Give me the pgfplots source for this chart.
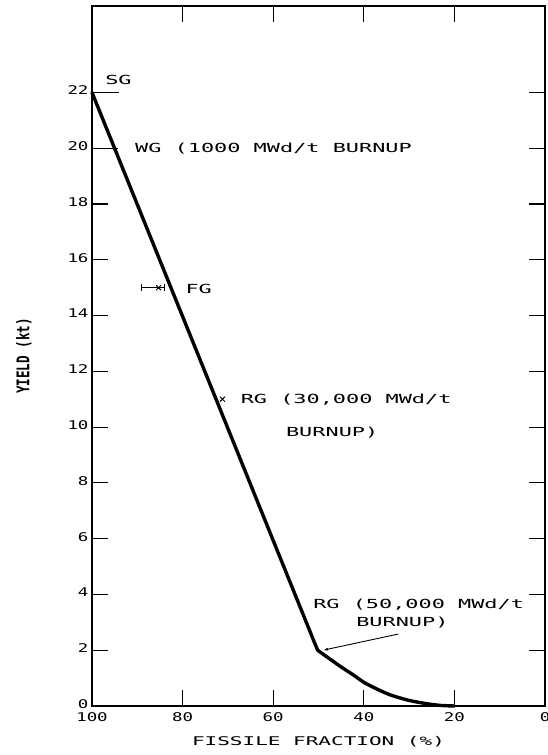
\documentclass[border=0pt]{standalone}
\usepackage{fontspec}
\setmainfont{DejaVu Sans Mono}[FakeStretch=1.75]
\newfontfamily\tickfont{DejaVu Sans Mono}[FakeStretch=1.45]
\newfontfamily\ylabfont{DejaVu Sans Mono}[FakeStretch=0.72]
\usepackage{pgfplots}
\pgfplotsset{compat=1.18}
\usetikzlibrary{arrows.meta}
\tikzset{ann/.style={anchor=west, inner sep=0pt, font=\fontsize{12.5}{14}\selectfont}}
\begin{document}
\begin{tikzpicture}
\useasboundingbox (-92pt,-49pt) rectangle (456pt,706pt);
\begin{axis}[
  scale only axis, width=453pt, height=700pt,
  at={(0,0)}, anchor=south west,
  xmin=0, xmax=100, x dir=reverse,
  ymin=0, ymax=25.1,
  xtick={0,20,...,100}, ytick={0,2,...,22},
  axis line style={line width=1.4pt},
  tick style={line width=1.1pt, black},
  major tick length=16pt,
  tick align=inside,
  /pgf/number format/assume math mode=true,
  ticklabel style={font=\tickfont\fontsize{12}{14}\selectfont},
  yticklabel style={yshift=2pt},
  xticklabel style={yshift=-3pt},
  clip=false,
]
\addplot[black, line width=3.4pt, line cap=round] coordinates {(100,22) (50.2,2.0)};
\addplot[black, line width=3.4pt, smooth, line cap=round] coordinates {(50.2,2.0) (47,1.63) (45,1.40) (42,1.08) (40,0.85) (37,0.60) (34,0.39) (30,0.20) (26,0.08) (23,0.02) (20,0)};
% markers
\addplot[black, line width=1.1pt] coordinates {(100,22) (94,22)};
\addplot[black, line width=1.1pt] coordinates {(100,20) (94.2,20)};
\addplot[black, line width=1pt, mark=|, mark size=3.5pt, mark options={solid}] coordinates {(89.0,15) (84.0,15)};
\addplot[black, only marks, mark=x, mark size=3.5pt, mark options={line width=1pt}] coordinates {(85.3,15)};
\addplot[black, only marks, mark=x, mark size=3.5pt, mark options={line width=1pt}] coordinates {(71.2,11)};
% labels
\node[ann] at (axis cs:97.1,22.45) {SG};
\node[ann] at (axis cs:90.5,20.0) {WG (1000 MWd/t BURNUP};
\node[ann] at (axis cs:79.4,14.95) {FG};
\node[ann] at (axis cs:67.2,10.97) {RG (30,000 MWd/t};
\node[ann] at (axis cs:57.2,9.82) {BURNUP)};
\node[ann] at (axis cs:51.2,3.62) {RG (50,000 MWd/t};
\node[ann] at (axis cs:41.7,3.0) {BURNUP)};
\draw[black, line width=0.9pt, -{Latex[length=5pt,width=3pt]}] (axis cs:32.4,2.58) -- (axis cs:49.0,2.0);
\node[rotate=90, font=\ylabfont\bfseries\fontsize{17.5}{19}\selectfont] at ([xshift=-68pt]rel axis cs:0,0.5) {YIELD (kt)};
\node[font=\fontsize{12}{14}\selectfont] at ([yshift=-36pt]rel axis cs:0.5,0) {FISSILE FRACTION (\%)};
\end{axis}
\end{tikzpicture}
\end{document}
